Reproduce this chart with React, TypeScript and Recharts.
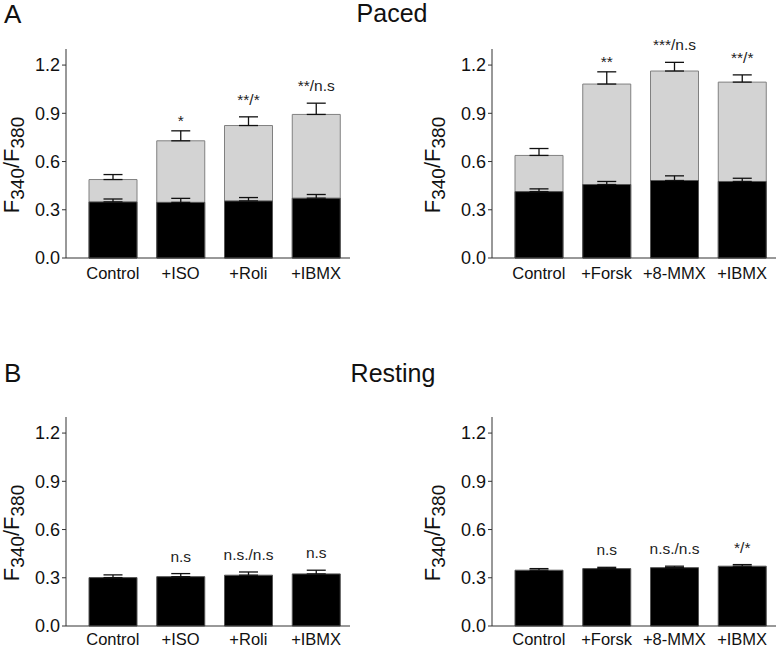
import React from 'react';
import { BarChart, Bar, XAxis, YAxis, ErrorBar, LabelList } from 'recharts';

const FONT = '"Liberation Sans", Arial, sans-serif';

// paced, left group
const groupA1 = ['Control', '+ISO', '+Roli', '+IBMX'];
const pacedDia1 = [0.349, 0.346, 0.355, 0.372];
const pacedDiaErr1 = [0.018, 0.025, 0.021, 0.023];
const pacedSys1 = [0.488, 0.729, 0.824, 0.893];
const pacedSysErr1 = [0.031, 0.062, 0.054, 0.07];
const pacedSig1 = ['', '*', '**/*', '**/n.s'];

// paced, right group
const groupA2 = ['Control', '+Forsk', '+8-MMX', '+IBMX'];
const pacedDia2 = [0.413, 0.457, 0.482, 0.476];
const pacedDiaErr2 = [0.017, 0.019, 0.029, 0.02];
const pacedSys2 = [0.638, 1.082, 1.163, 1.094];
const pacedSysErr2 = [0.043, 0.076, 0.054, 0.045];
const pacedSig2 = ['', '**', '***/n.s', '**/*'];

// resting
const restDia1 = [0.301, 0.307, 0.316, 0.324];
const restDiaErr1 = [0.017, 0.019, 0.02, 0.023];
const restSig1 = ['', 'n.s', 'n.s./n.s', 'n.s'];

const restDia2 = [0.347, 0.357, 0.363, 0.372];
const restDiaErr2 = [0.01, 0.008, 0.009, 0.01];
const restSig2 = ['', 'n.s', 'n.s./n.s', '*/*'];

const yTicks = [0, 0.3, 0.6, 0.9, 1.2];

type PanelProps = {
  left: number;
  top: number;
  cats: string[];
  dia: number[];
  diaErr: number[];
  sys?: number[];
  sysErr?: number[];
  sig: string[];
  tickGap: number;
};

function Panel({ left, top, cats, dia, diaErr, sys, sysErr, sig, tickGap }: PanelProps) {
  const data = cats.map((name, i) => ({
    name,
    dia: dia[i],
    diaErr: [0, diaErr[i]],
    sys: sys ? sys[i] : undefined,
    sysErr: sysErr ? [0, sysErr[i]] : undefined,
    sig: sig[i],
  }));
  const topVals = sys || dia;
  const topErr = sysErr || diaErr;

  const sigLabel = (props: any) => {
    const { x, y, width, height, index, value } = props;
    if (!value) return null;
    const pxPerUnit = height / topVals[index];
    const capY = y - topErr[index] * pxPerUnit;
    // plain asterisks sit lower, closer to the cap
    const onlyStars = /^\*+$/.test(value);
    return (
      <text
        x={x + width / 2}
        y={capY - (onlyStars ? 5 : 12)}
        textAnchor="middle"
        fontSize={15.5}
        fontFamily={FONT}
        fill="#222"
      >
        {value}
      </text>
    );
  };

  return (
    <div style={{ position: 'absolute', left, top }}>
      <BarChart
        width={350}
        height={298}
        data={data}
        margin={{ top: 49, right: 0, bottom: 0, left: 0 }}
        barSize={48}
        barGap={-48}
      >
        <XAxis
          dataKey="name"
          height={40}
          padding={{ left: 13, right: 0 }}
          tickLine={false}
          tickSize={tickGap}
          tickMargin={3}
          axisLine={{ stroke: '#333' }}
          tick={{ fontSize: 16.5, fill: '#111', fontFamily: FONT }}
          interval={0}
        />
        <YAxis
          width={66}
          domain={[0, 1.3]}
          ticks={yTicks}
          tickFormatter={(v: number) => v.toFixed(1)}
          tickSize={4}
          tickMargin={2}
          axisLine={{ stroke: '#333' }}
          tickLine={{ stroke: '#333' }}
          tick={{ fontSize: 18, fill: '#111', fontFamily: FONT }}
        />
        {sys && (
          <Bar dataKey="sys" fill="#d3d3d3" stroke="#808080" strokeWidth={1} isAnimationActive={false}>
            <ErrorBar dataKey="sysErr" width={9.5} stroke="#111" strokeWidth={1.3} direction="y" />
            <LabelList dataKey="sig" content={sigLabel} />
          </Bar>
        )}
        <Bar dataKey="dia" fill="#000" stroke="#555" strokeWidth={1} isAnimationActive={false}>
          <ErrorBar dataKey="diaErr" width={9.5} stroke="#111" strokeWidth={1.3} direction="y" />
          {!sys && <LabelList dataKey="sig" content={sigLabel} />}
        </Bar>
      </BarChart>
    </div>
  );
}

function YLabel({ x, y }: { x: number; y: number }) {
  return (
    <text
      x={x}
      y={y}
      transform={`rotate(-90 ${x} ${y})`}
      textAnchor="middle"
      style={{ fontSize: 22, fontFamily: FONT }}
      fill="#111"
    >
      F<tspan style={{ fontSize: 19 }} dy={5}>340</tspan>
      <tspan dy={-5}>/F</tspan>
      <tspan style={{ fontSize: 19 }} dy={5}>380</tspan>
    </text>
  );
}

export default function App() {
  return (
    <div
      style={{
        position: 'absolute',
        left: 0,
        top: 0,
        width: 776,
        height: 647,
        overflow: 'hidden',
        background: '#fff',
        fontFamily: FONT,
      }}
    >
      <Panel left={0} top={0} cats={groupA1} dia={pacedDia1} diaErr={pacedDiaErr1} sys={pacedSys1} sysErr={pacedSysErr1} sig={pacedSig1} tickGap={6} />
      <Panel left={426} top={0} cats={groupA2} dia={pacedDia2} diaErr={pacedDiaErr2} sys={pacedSys2} sysErr={pacedSysErr2} sig={pacedSig2} tickGap={6} />
      <Panel left={0} top={368} cats={groupA1} dia={restDia1} diaErr={restDiaErr1} sig={restSig1} tickGap={4} />
      <Panel left={426} top={368} cats={groupA2} dia={restDia2} diaErr={restDiaErr2} sig={restSig2} tickGap={4} />
      <svg width={776} height={647} style={{ position: 'absolute', left: 0, top: 0, pointerEvents: 'none' }}>
        <text x={4} y={23} fontSize={26} fontFamily={FONT} fill="#111">A</text>
        <text x={392} y={22} fontSize={25} fontFamily={FONT} fill="#111" textAnchor="middle">Paced</text>
        <text x={4} y={382} fontSize={26} fontFamily={FONT} fill="#111">B</text>
        <text x={393} y={382} fontSize={25} fontFamily={FONT} fill="#111" textAnchor="middle">Resting</text>
        <YLabel x={19} y={165} />
        <YLabel x={440} y={165} />
        <YLabel x={19} y={533} />
        <YLabel x={440} y={533} />
      </svg>
    </div>
  );
}
